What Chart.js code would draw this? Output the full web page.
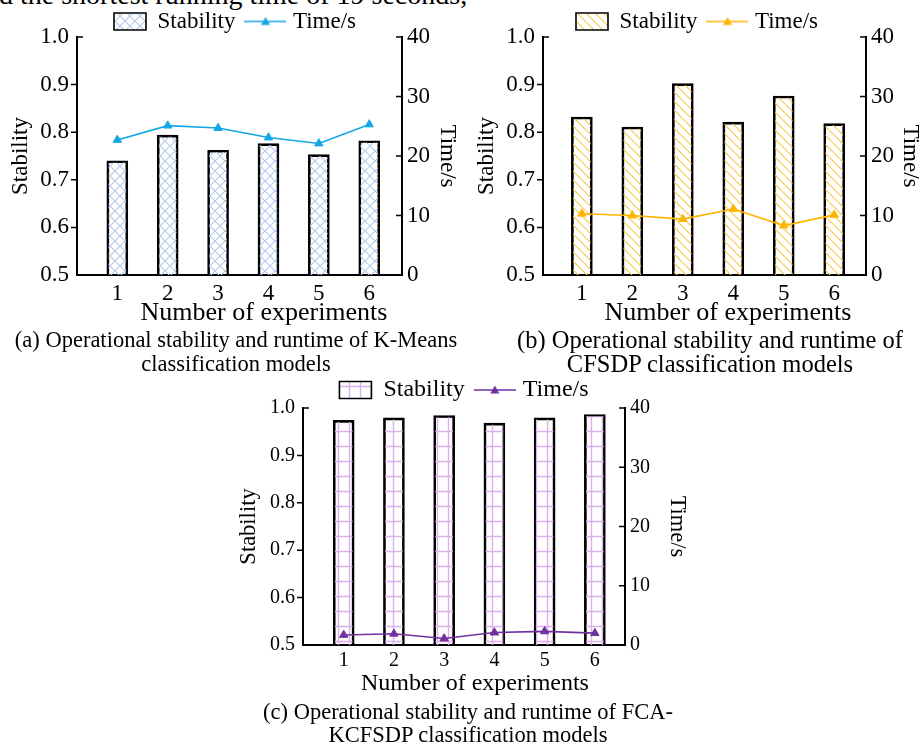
<!DOCTYPE html>
<html>
<head>
<meta charset="utf-8">
<script src="https://cdn.jsdelivr.net/npm/chart.js@4.4.1/dist/chart.umd.min.js"></script>
<style>
  body { margin: 0; width: 924px; height: 745px; overflow: hidden; background: #fff; position: relative; font-family: "Liberation Serif", "Times New Roman", serif; color: #000; }
  .box { position: absolute; }
  .cap { position: absolute; text-align: center; font-size: 22.5px; line-height: 24px; white-space: nowrap; }
  .xt { position: absolute; width: 400px; text-align: center; font-size: 26px; line-height: 26px; white-space: nowrap; }
</style>
</head>
<body>
<div class="cap" style="left:-1px; top:-19px; font-size:28px; line-height:28px; text-align:left;">d the shortest running time of 19 seconds,</div>

<div class="box" style="left:0; top:-4px; width:470px; height:329px;"><canvas id="chartA"></canvas></div>
<div class="box" style="left:470px; top:-4px; width:454px; height:329px;"><canvas id="chartB"></canvas></div>
<div class="box" style="left:234px; top:364px; width:460px; height:332px;"><canvas id="chartC"></canvas></div>

<div class="xt" style="left:64px; top:299px;">Number of experiments</div>
<div class="xt" style="left:528px; top:299px;">Number of experiments</div>
<div class="xt" style="left:275px; top:670px; font-size:24px; line-height:24px;">Number of experiments</div>

<div class="cap" style="left:0; width:472px; top:328px;">(a) Operational stability and runtime of K-Means<br>classification models</div>
<div class="cap" style="left:474px; width:472px; top:328px; font-size:24.5px;">(b) Operational stability and runtime of<br>CFSDP classification models</div>
<div class="cap" style="left:232px; width:472px; top:700px; line-height:23px;">(c) Operational stability and runtime of FCA-<br>KCFSDP classification models</div>

<script>
// Values
const experiments = [1, 2, 3, 4, 5, 6];
const stabilityKMeans = [0.740, 0.794, 0.762, 0.776, 0.753, 0.782];
const timeKMeans = [22.7, 25.1, 24.7, 23.1, 22.1, 25.3];
const stabilityCFSDP = [0.832, 0.811, 0.902, 0.821, 0.876, 0.818];
const timeCFSDP = [10.3, 10.0, 9.4, 11.1, 8.3, 10.1];
const stabilityFCA = [0.974, 0.979, 0.984, 0.968, 0.979, 0.986];
const timeFCA = [1.7, 1.9, 1.1, 2.1, 2.3, 2.0];
const stabilityTicks = [0.5, 0.6, 0.7, 0.8, 0.9, 1.0];
const timeTicks = [0, 10, 20, 30, 40];

const FONT = '"Liberation Serif", "Times New Roman", serif';

// Fill patterns for the bars (cross hatch, diagonal stripes, grid)
function makePattern(kind, color) {
  const c = document.createElement('canvas');
  if (kind === 'cross') { c.width = 10; c.height = 10; }
  else if (kind === 'diag') { c.width = 9; c.height = 9; }
  else { c.width = 11; c.height = 15; }
  const ctx = c.getContext('2d');
  ctx.strokeStyle = color;
  ctx.lineWidth = kind === 'grid' ? 1.4 : 1.1;
  ctx.beginPath();
  if (kind === 'cross') {
    ctx.moveTo(0, 0); ctx.lineTo(10, 10);
    ctx.moveTo(10, 0); ctx.lineTo(0, 10);
  } else if (kind === 'diag') {
    ctx.moveTo(-1, -1); ctx.lineTo(10, 10);
    ctx.moveTo(-1, 8); ctx.lineTo(1, 10);
    ctx.moveTo(8, -1); ctx.lineTo(10, 1);
  } else {
    ctx.moveTo(5.5, 0); ctx.lineTo(5.5, 15);
    ctx.moveTo(0, 7.5); ctx.lineTo(11, 7.5);
  }
  ctx.stroke();
  return ctx.createPattern(c, 'repeat');
}

// Small line-with-triangle symbol used in the legend
function lineSymbol(color) {
  const c = document.createElement('canvas');
  c.width = 42; c.height = 12;
  const ctx = c.getContext('2d');
  ctx.strokeStyle = color;
  ctx.lineWidth = 1.5;
  ctx.beginPath(); ctx.moveTo(0, 6); ctx.lineTo(42, 6); ctx.stroke();
  ctx.fillStyle = color;
  ctx.beginPath(); ctx.moveTo(21, 1.5); ctx.lineTo(25.5, 9.5); ctx.lineTo(16.5, 9.5); ctx.closePath(); ctx.fill();
  return c;
}

// Tick marks: left axis outward (top one inward), right axis inward
const tickMarks = {
  id: 'tickMarks',
  afterDraw(chart) {
    const { ctx, chartArea, scales } = chart;
    ctx.save();
    ctx.strokeStyle = '#000';
    ctx.lineWidth = 1.5;
    ctx.beginPath();
    scales.y.ticks.forEach((t) => {
      if (t.value === 0.5) return;
      const p = scales.y.getPixelForValue(t.value);
      if (t.value === 1) { ctx.moveTo(chartArea.left, p); ctx.lineTo(chartArea.left + 6, p); }
      else { ctx.moveTo(chartArea.left - 6, p); ctx.lineTo(chartArea.left, p); }
    });
    scales.y1.ticks.forEach((t) => {
      if (t.value === 0) return;
      const p = scales.y1.getPixelForValue(t.value);
      ctx.moveTo(chartArea.right - 6, p); ctx.lineTo(chartArea.right, p);
    });
    ctx.stroke();
    ctx.restore();
  }
};

// Legend sits closer to the plot than Chart.js leaves by default
const legendTrim = {
  id: 'legendTrim',
  beforeLayout(chart, args, opts) {
    const lg = chart.legend;
    if (!lg || lg._trimmed) return;
    const fit = lg.fit;
    lg.fit = function () { fit.call(this); this.height -= opts.trim; };
    lg._trimmed = true;
  }
};

function buildChart(id, cfg) {
  const hatch = makePattern(cfg.hatch, cfg.hatchColor);
  const symbol = lineSymbol(cfg.lineColor);
  const tickFont = { family: FONT, size: cfg.tickSize };
  const yTitleFont = { family: FONT, size: cfg.yTitleSize, lineHeight: 1 };
  return new Chart(document.getElementById(id), {
    type: 'bar',
    data: {
      datasets: [
        {
          type: 'line',
          label: 'Time/s',
          data: experiments.map((x, i) => ({ x, y: cfg.time[i] })),
          yAxisID: 'y1',
          borderColor: cfg.lineColor,
          backgroundColor: cfg.lineColor,
          borderWidth: 1.6,
          pointStyle: 'triangle',
          pointRadius: 4.8,
          pointBorderWidth: 1,
          order: 0,
        },
        {
          label: 'Stability',
          data: experiments.map((x, i) => ({ x, y: cfg.stability[i] })),
          yAxisID: 'y',
          backgroundColor: hatch,
          borderColor: '#000',
          borderWidth: 2,
          borderSkipped: false,
          barThickness: 21,
          order: 1,
        },
      ],
    },
    options: {
      responsive: true,
      maintainAspectRatio: false,
      animation: false,
      plugins: {
        tooltip: { enabled: false },
        legendTrim: { trim: cfg.legendTrim },
        legend: {
          position: 'top',
          labels: {
            font: { family: FONT, size: cfg.legendSize }, color: '#000',
            usePointStyle: true, pointStyleWidth: 32, boxHeight: 17, padding: 14,
            generateLabels: () => [
              { text: 'Stability', fillStyle: hatch, strokeStyle: '#000', lineWidth: 1.6, pointStyle: 'rect', datasetIndex: 1 },
              { text: 'Time/s', fillStyle: cfg.lineColor, strokeStyle: cfg.lineColor, lineWidth: 0, pointStyle: symbol, datasetIndex: 0 },
            ],
          },
        },
      },
      scales: {
        x: {
          type: 'linear',
          offset: false,
          min: cfg.xMin, max: cfg.xMax,
          afterBuildTicks: (s) => { s.ticks = experiments.map((v) => ({ value: v })); },
          afterFit: (s) => { s.height = cfg.bottomH; },
          grid: { display: false, drawTicks: false },
          border: { color: '#000', width: 2 },
          ticks: { font: tickFont, color: '#000', padding: cfg.xTickPad },
        },
        y: {
          position: 'left',
          min: 0.5, max: 1.0,
          afterBuildTicks: (s) => { s.ticks = stabilityTicks.map((v) => ({ value: v })); },
          afterFit: (s) => { s.width = cfg.leftW; },
          grid: { display: false, drawTicks: false },
          border: { color: '#000', width: 2 },
          ticks: { font: tickFont, color: '#000', padding: 8, callback: (v) => v.toFixed(1) },
          title: { display: true, text: 'Stability', font: yTitleFont, color: '#000', padding: { top: cfg.leftTitlePad, bottom: 0 } },
        },
        y1: {
          position: 'right',
          min: 0, max: 40,
          afterBuildTicks: (s) => { s.ticks = timeTicks.map((v) => ({ value: v })); },
          afterFit: (s) => { s.width = cfg.rightW; },
          grid: { display: false, drawTicks: false },
          border: { color: '#000', width: 2 },
          ticks: { font: tickFont, color: '#000', padding: 5 },
          title: { display: true, text: 'Time/s', font: yTitleFont, color: '#000', padding: { top: cfg.rightTitlePad, bottom: 0 } },
        },
      },
    },
    plugins: [tickMarks, legendTrim],
  });
}

buildChart('chartA', {
  stability: stabilityKMeans, time: timeKMeans,
  hatch: 'cross', hatchColor: '#b3cbee', lineColor: '#14a6e6',
  xMin: 0.2, xMax: 6.65, leftW: 77, rightW: 68, bottomH: 50,
  tickSize: 23, yTitleSize: 23, legendSize: 23, legendTrim: 6, xTickPad: 5,
  leftTitlePad: 9, rightTitlePad: 11,
});
buildChart('chartB', {
  stability: stabilityCFSDP, time: timeCFSDP,
  hatch: 'diag', hatchColor: '#f8c84a', lineColor: '#ffb400',
  xMin: 0.23, xMax: 6.63, leftW: 73, rightW: 58, bottomH: 50,
  tickSize: 23, yTitleSize: 23, legendSize: 23, legendTrim: 6, xTickPad: 5,
  leftTitlePad: 5, rightTitlePad: 2,
});
buildChart('chartC', {
  stability: stabilityFCA, time: timeFCA,
  hatch: 'grid', hatchColor: '#dcb0ea', lineColor: '#7030a0',
  xMin: 0.19, xMax: 6.6, leftW: 69, rightW: 69, bottomH: 51,
  tickSize: 20, yTitleSize: 22.5, legendSize: 24, legendTrim: 4, xTickPad: 4,
  leftTitlePad: 4, rightTitlePad: 6,
});
</script>
</body>
</html>
